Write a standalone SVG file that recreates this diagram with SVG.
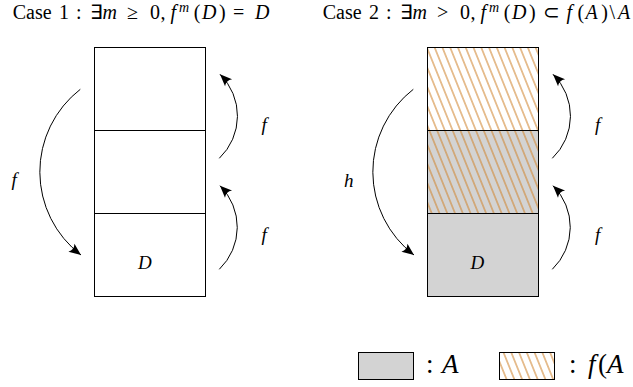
<svg xmlns="http://www.w3.org/2000/svg" width="633" height="387" viewBox="0 0 633 387">
<style>
text{font-family:"Liberation Serif","Times New Roman",serif;fill:#000}
.t{font-size:20px}
.i{font-style:italic}
.sup{font-style:italic;font-size:14px}
.lab{font-size:19px;font-style:italic}
.lg{font-size:27px}
.box{stroke:#000;stroke-width:1}
.arc{fill:none;stroke:#000;stroke-width:1}
</style>
<defs>
<pattern id="hatch" patternUnits="userSpaceOnUse" width="7.2" height="20" patternTransform="rotate(-22)">
<line x1="3.6" y1="-1" x2="3.6" y2="21" stroke="#d08530" stroke-width="1"/>
</pattern>
<marker id="ah" markerUnits="userSpaceOnUse" markerWidth="16" markerHeight="12" refX="0" refY="0" viewBox="-13 -6 14 12" orient="auto" overflow="visible">
<path d="M0,0 L-12,-5 Q-8.5,0 -12,5 Z" fill="#000"/>
</marker>
</defs>

<g id="title1">
<text class="t" y="18.5"><tspan x="12.7">Case</tspan><tspan x="59">1</tspan><tspan x="76">:</tspan><tspan x="90">∃</tspan><tspan class="i" x="102.5">m</tspan><tspan x="127">≥</tspan><tspan x="150.1">0</tspan><tspan x="160.5">,</tspan><tspan class="i" x="170.5">f</tspan><tspan class="sup" x="179" dy="-7">m</tspan><tspan x="193.8" dy="7">(</tspan><tspan class="i" x="201.9">D</tspan><tspan x="219.1">)</tspan><tspan x="233">=</tspan><tspan class="i" x="254.9">D</tspan></text>
</g>
<g id="title2">
<text class="t" y="18.5"><tspan x="322.7">Case</tspan><tspan x="369">2</tspan><tspan x="386">:</tspan><tspan x="400">∃</tspan><tspan class="i" x="412.5">m</tspan><tspan x="437">&gt;</tspan><tspan x="460.1">0</tspan><tspan x="470.5">,</tspan><tspan class="i" x="480.5">f</tspan><tspan class="sup" x="489" dy="-7">m</tspan><tspan x="503.8" dy="7">(</tspan><tspan class="i" x="511.9">D</tspan><tspan x="529.1">)</tspan><tspan x="543">⊂</tspan><tspan class="i" x="566.5">f</tspan><tspan x="577.4">(</tspan><tspan class="i" x="585.5">A</tspan><tspan x="601.3">)</tspan><tspan x="609.4">\</tspan><tspan class="i" x="618">A</tspan></text>
</g>

<g id="case1-stack">
<rect class="box" x="94.5" y="47.5" width="111" height="249" fill="#fff"/>
<line class="box" x1="94.5" y1="130.5" x2="205.5" y2="130.5"/>
<line class="box" x1="94.5" y1="213.5" x2="205.5" y2="213.5"/>
<text class="lab" x="138" y="269.3">D</text>
</g>

<g id="case2-stack">
<rect x="427.5" y="47.5" width="111" height="83" fill="#fff"/>
<rect x="427.5" y="47.5" width="111" height="83" fill="url(#hatch)"/>
<rect x="427.5" y="130.5" width="111" height="83" fill="#d3d3d3"/>
<rect x="427.5" y="130.5" width="111" height="83" fill="url(#hatch)"/>
<rect x="427.5" y="213.5" width="111" height="83" fill="#d3d3d3"/>
<rect class="box" x="427.5" y="47.5" width="111" height="249" fill="none"/>
<line class="box" x1="427.5" y1="130.5" x2="538.5" y2="130.5"/>
<line class="box" x1="427.5" y1="213.5" x2="538.5" y2="213.5"/>
<text class="lab" x="470.5" y="269.3">D</text>
</g>

<g id="connectors">
<path class="arc" d="M80.3,89.3 A104.5,104.5 0 0 0 81,255" marker-end="url(#ah)"/>
<path class="arc" d="M219.3,269.3 A58.4,58.4 0 0 0 220,185.7" marker-end="url(#ah)"/>
<path class="arc" d="M219.3,158.3 A58.4,58.4 0 0 0 220,74.3" marker-end="url(#ah)"/>
<path class="arc" d="M413.3,89.3 A104.5,104.5 0 0 0 414,255" marker-end="url(#ah)"/>
<path class="arc" d="M552.3,269.3 A58.4,58.4 0 0 0 553,185.7" marker-end="url(#ah)"/>
<path class="arc" d="M552.3,158.3 A58.4,58.4 0 0 0 553,74.3" marker-end="url(#ah)"/>
</g>

<g id="labels">
<text class="lab" x="11.5" y="186">f</text>
<text class="lab" x="261.5" y="131">f</text>
<text class="lab" x="261.5" y="241">f</text>
<text class="lab" x="344" y="186.5">h</text>
<text class="lab" x="595" y="131">f</text>
<text class="lab" x="595" y="241">f</text>
</g>

<g id="legend-A">
<rect class="box" x="358.5" y="352.5" width="55" height="27" fill="#d3d3d3"/>
<text class="lg" y="373"><tspan x="426">:</tspan><tspan class="i" x="442">A</tspan></text>
</g>
<g id="legend-fA">
<rect x="499.5" y="352.5" width="55" height="27" fill="#fff"/>
<rect class="box" x="499.5" y="352.5" width="55" height="27" fill="url(#hatch)"/>
<text class="lg" y="373"><tspan x="569">:</tspan><tspan class="i" x="588">f</tspan><tspan x="598">(</tspan><tspan class="i" x="607">A</tspan></text>
</g>
</svg>
